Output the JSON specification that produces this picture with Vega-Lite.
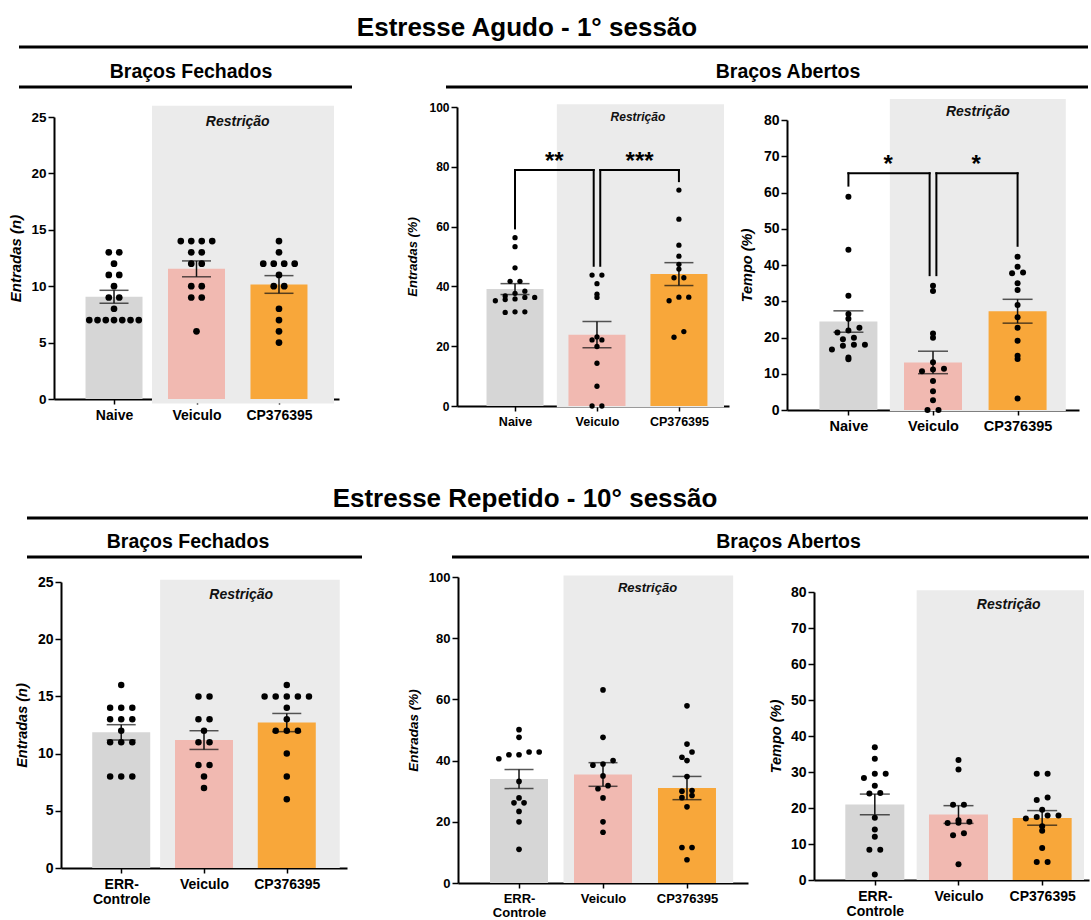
{
"$schema": "https://vega.github.io/schema/vega-lite/v6.json",
"padding": {"left": 8, "top": 14, "right": 0, "bottom": 0},
"config": {
 "view": {"stroke": null},
 "font": "Liberation Sans",
 "axis": {"domainColor": "#000", "domainWidth": 2, "tickColor": "#000", "tickWidth": 1.5, "labelColor": "#000", "labelFont": "Liberation Sans", "labelFontWeight": "bold", "titleColor": "#000", "titleFont": "Liberation Sans", "titleFontWeight": "bold", "titleFontStyle": "italic", "grid": false, "labelFlush": false, "labelOverlap": false},
 "title": {"font": "Liberation Sans", "fontWeight": "bold", "color": "#000"}
},
"datasets": {
 "pts": [
  {"p":"A","g":"Naive","v":13},{"p":"A","g":"Naive","v":13},{"p":"A","g":"Naive","v":12},{"p":"A","g":"Naive","v":11},{"p":"A","g":"Naive","v":11},{"p":"A","g":"Naive","v":10},{"p":"A","g":"Naive","v":9},{"p":"A","g":"Naive","v":9},{"p":"A","g":"Naive","v":8},{"p":"A","g":"Naive","v":7},{"p":"A","g":"Naive","v":7},{"p":"A","g":"Naive","v":7},{"p":"A","g":"Naive","v":7},{"p":"A","g":"Naive","v":7},{"p":"A","g":"Naive","v":7},{"p":"A","g":"Naive","v":7},
  {"p":"A","g":"Veiculo","v":14},{"p":"A","g":"Veiculo","v":14},{"p":"A","g":"Veiculo","v":14},{"p":"A","g":"Veiculo","v":14},{"p":"A","g":"Veiculo","v":13},{"p":"A","g":"Veiculo","v":13},{"p":"A","g":"Veiculo","v":12},{"p":"A","g":"Veiculo","v":12},{"p":"A","g":"Veiculo","v":10},{"p":"A","g":"Veiculo","v":10},{"p":"A","g":"Veiculo","v":9},{"p":"A","g":"Veiculo","v":9},{"p":"A","g":"Veiculo","v":6},
  {"p":"A","g":"CP376395","v":14},{"p":"A","g":"CP376395","v":13},{"p":"A","g":"CP376395","v":12},{"p":"A","g":"CP376395","v":12},{"p":"A","g":"CP376395","v":12},{"p":"A","g":"CP376395","v":12},{"p":"A","g":"CP376395","v":11},{"p":"A","g":"CP376395","v":10},{"p":"A","g":"CP376395","v":10},{"p":"A","g":"CP376395","v":8},{"p":"A","g":"CP376395","v":7},{"p":"A","g":"CP376395","v":6},{"p":"A","g":"CP376395","v":5},
  {"p":"B","g":"Naive","v":56.3},{"p":"B","g":"Naive","v":53.3},{"p":"B","g":"Naive","v":46.2},{"p":"B","g":"Naive","v":41.7},{"p":"B","g":"Naive","v":41.7},{"p":"B","g":"Naive","v":38.4},{"p":"B","g":"Naive","v":36.8},{"p":"B","g":"Naive","v":36.3},{"p":"B","g":"Naive","v":35.2},{"p":"B","g":"Naive","v":35.6},{"p":"B","g":"Naive","v":37.7},{"p":"B","g":"Naive","v":35.8},{"p":"B","g":"Naive","v":36.3},{"p":"B","g":"Naive","v":31.3},{"p":"B","g":"Naive","v":31.5},{"p":"B","g":"Naive","v":31.5},
  {"p":"B","g":"Veiculo","v":43.8},{"p":"B","g":"Veiculo","v":43.8},{"p":"B","g":"Veiculo","v":40.9},{"p":"B","g":"Veiculo","v":37.4},{"p":"B","g":"Veiculo","v":36.3},{"p":"B","g":"Veiculo","v":23.1},{"p":"B","g":"Veiculo","v":22.1},{"p":"B","g":"Veiculo","v":22.1},{"p":"B","g":"Veiculo","v":19.9},{"p":"B","g":"Veiculo","v":14.3},{"p":"B","g":"Veiculo","v":6.6},{"p":"B","g":"Veiculo","v":0},{"p":"B","g":"Veiculo","v":0},
  {"p":"B","g":"CP376395","v":72.2},{"p":"B","g":"CP376395","v":62.5},{"p":"B","g":"CP376395","v":53.8},{"p":"B","g":"CP376395","v":50.1},{"p":"B","g":"CP376395","v":47.4},{"p":"B","g":"CP376395","v":45.8},{"p":"B","g":"CP376395","v":42.9},{"p":"B","g":"CP376395","v":42.9},{"p":"B","g":"CP376395","v":36.4},{"p":"B","g":"CP376395","v":36.4},{"p":"B","g":"CP376395","v":35.2},{"p":"B","g":"CP376395","v":24.9},{"p":"B","g":"CP376395","v":23.0},
  {"p":"C","g":"Naive","v":58.8},{"p":"C","g":"Naive","v":44.2},{"p":"C","g":"Naive","v":31.5},{"p":"C","g":"Naive","v":26.5},{"p":"C","g":"Naive","v":25.2},{"p":"C","g":"Naive","v":22.7},{"p":"C","g":"Naive","v":21.4},{"p":"C","g":"Naive","v":21.9},{"p":"C","g":"Naive","v":19.5},{"p":"C","g":"Naive","v":17.7},{"p":"C","g":"Naive","v":19.9},{"p":"C","g":"Naive","v":18.0},{"p":"C","g":"Naive","v":18.0},{"p":"C","g":"Naive","v":16.7},{"p":"C","g":"Naive","v":14.0},{"p":"C","g":"Naive","v":14.5},
  {"p":"C","g":"Veiculo","v":34.3},{"p":"C","g":"Veiculo","v":32.8},{"p":"C","g":"Veiculo","v":21.1},{"p":"C","g":"Veiculo","v":19.9},{"p":"C","g":"Veiculo","v":13.2},{"p":"C","g":"Veiculo","v":11.4},{"p":"C","g":"Veiculo","v":10.7},{"p":"C","g":"Veiculo","v":11.2},{"p":"C","g":"Veiculo","v":8.0},{"p":"C","g":"Veiculo","v":5.2},{"p":"C","g":"Veiculo","v":2.7},{"p":"C","g":"Veiculo","v":0},{"p":"C","g":"Veiculo","v":0},
  {"p":"C","g":"CP376395","v":42.3},{"p":"C","g":"CP376395","v":39.5},{"p":"C","g":"CP376395","v":37.7},{"p":"C","g":"CP376395","v":37.9},{"p":"C","g":"CP376395","v":35.0},{"p":"C","g":"CP376395","v":33.1},{"p":"C","g":"CP376395","v":29.0},{"p":"C","g":"CP376395","v":25.6},{"p":"C","g":"CP376395","v":22.7},{"p":"C","g":"CP376395","v":19.1},{"p":"C","g":"CP376395","v":15.0},{"p":"C","g":"CP376395","v":14.1},{"p":"C","g":"CP376395","v":3.2},
  {"p":"D","g":"ERR-Controle","v":16},{"p":"D","g":"ERR-Controle","v":14},{"p":"D","g":"ERR-Controle","v":14},{"p":"D","g":"ERR-Controle","v":14},{"p":"D","g":"ERR-Controle","v":13},{"p":"D","g":"ERR-Controle","v":13},{"p":"D","g":"ERR-Controle","v":13},{"p":"D","g":"ERR-Controle","v":12},{"p":"D","g":"ERR-Controle","v":11},{"p":"D","g":"ERR-Controle","v":11},{"p":"D","g":"ERR-Controle","v":11},{"p":"D","g":"ERR-Controle","v":8},{"p":"D","g":"ERR-Controle","v":8},{"p":"D","g":"ERR-Controle","v":8},
  {"p":"D","g":"Veiculo","v":15},{"p":"D","g":"Veiculo","v":15},{"p":"D","g":"Veiculo","v":13},{"p":"D","g":"Veiculo","v":13},{"p":"D","g":"Veiculo","v":12},{"p":"D","g":"Veiculo","v":11},{"p":"D","g":"Veiculo","v":11},{"p":"D","g":"Veiculo","v":9},{"p":"D","g":"Veiculo","v":9},{"p":"D","g":"Veiculo","v":8},{"p":"D","g":"Veiculo","v":7},
  {"p":"D","g":"CP376395","v":16},{"p":"D","g":"CP376395","v":15},{"p":"D","g":"CP376395","v":15},{"p":"D","g":"CP376395","v":15},{"p":"D","g":"CP376395","v":15},{"p":"D","g":"CP376395","v":15},{"p":"D","g":"CP376395","v":14},{"p":"D","g":"CP376395","v":13},{"p":"D","g":"CP376395","v":12},{"p":"D","g":"CP376395","v":12},{"p":"D","g":"CP376395","v":12},{"p":"D","g":"CP376395","v":10},{"p":"D","g":"CP376395","v":8},{"p":"D","g":"CP376395","v":6},
  {"p":"E","g":"ERR-Controle","v":50.1},{"p":"E","g":"ERR-Controle","v":47.6},{"p":"E","g":"ERR-Controle","v":42.8},{"p":"E","g":"ERR-Controle","v":42.8},{"p":"E","g":"ERR-Controle","v":41.9},{"p":"E","g":"ERR-Controle","v":41.9},{"p":"E","g":"ERR-Controle","v":40.6},{"p":"E","g":"ERR-Controle","v":33.2},{"p":"E","g":"ERR-Controle","v":27.8},{"p":"E","g":"ERR-Controle","v":26.2},{"p":"E","g":"ERR-Controle","v":26.2},{"p":"E","g":"ERR-Controle","v":23.4},{"p":"E","g":"ERR-Controle","v":20.0},{"p":"E","g":"ERR-Controle","v":11.0},
  {"p":"E","g":"Veiculo","v":63.1},{"p":"E","g":"Veiculo","v":47.6},{"p":"E","g":"Veiculo","v":40.0},{"p":"E","g":"Veiculo","v":38.9},{"p":"E","g":"Veiculo","v":38.5},{"p":"E","g":"Veiculo","v":35.0},{"p":"E","g":"Veiculo","v":31.8},{"p":"E","g":"Veiculo","v":30.8},{"p":"E","g":"Veiculo","v":27.8},{"p":"E","g":"Veiculo","v":20.0},{"p":"E","g":"Veiculo","v":16.6},
  {"p":"E","g":"CP376395","v":57.9},{"p":"E","g":"CP376395","v":45.4},{"p":"E","g":"CP376395","v":42.8},{"p":"E","g":"CP376395","v":41.1},{"p":"E","g":"CP376395","v":40.0},{"p":"E","g":"CP376395","v":34.8},{"p":"E","g":"CP376395","v":30.2},{"p":"E","g":"CP376395","v":30.0},{"p":"E","g":"CP376395","v":28.6},{"p":"E","g":"CP376395","v":27.9},{"p":"E","g":"CP376395","v":24.9},{"p":"E","g":"CP376395","v":11.6},{"p":"E","g":"CP376395","v":11.6},{"p":"E","g":"CP376395","v":7.6},
  {"p":"F","g":"ERR-Controle","v":36.9},{"p":"F","g":"ERR-Controle","v":33.7},{"p":"F","g":"ERR-Controle","v":29.5},{"p":"F","g":"ERR-Controle","v":29.5},{"p":"F","g":"ERR-Controle","v":28.3},{"p":"F","g":"ERR-Controle","v":26.2},{"p":"F","g":"ERR-Controle","v":24.2},{"p":"F","g":"ERR-Controle","v":24.0},{"p":"F","g":"ERR-Controle","v":17.3},{"p":"F","g":"ERR-Controle","v":14.0},{"p":"F","g":"ERR-Controle","v":12.0},{"p":"F","g":"ERR-Controle","v":8.4},{"p":"F","g":"ERR-Controle","v":8.4},{"p":"F","g":"ERR-Controle","v":1.5},
  {"p":"F","g":"Veiculo","v":33.3},{"p":"F","g":"Veiculo","v":30.7},{"p":"F","g":"Veiculo","v":20.9},{"p":"F","g":"Veiculo","v":20.9},{"p":"F","g":"Veiculo","v":16.6},{"p":"F","g":"Veiculo","v":16.2},{"p":"F","g":"Veiculo","v":15.9},{"p":"F","g":"Veiculo","v":15.8},{"p":"F","g":"Veiculo","v":13.0},{"p":"F","g":"Veiculo","v":12.4},{"p":"F","g":"Veiculo","v":4.4},
  {"p":"F","g":"CP376395","v":29.5},{"p":"F","g":"CP376395","v":29.5},{"p":"F","g":"CP376395","v":22.9},{"p":"F","g":"CP376395","v":22.2},{"p":"F","g":"CP376395","v":19.5},{"p":"F","g":"CP376395","v":17.9},{"p":"F","g":"CP376395","v":17.9},{"p":"F","g":"CP376395","v":17.5},{"p":"F","g":"CP376395","v":17.1},{"p":"F","g":"CP376395","v":14.9},{"p":"F","g":"CP376395","v":13.7},{"p":"F","g":"CP376395","v":8.9},{"p":"F","g":"CP376395","v":5.0},{"p":"F","g":"CP376395","v":5.0}
 ],
 "brk": [
  {"p":"B","x":1,"x2":1.96,"y":78.9,"y2":78.9},{"p":"B","x":1,"x2":1,"y":59.4,"y2":78.9},{"p":"B","x":1.96,"x2":1.96,"y":46.9,"y2":78.9},
  {"p":"B","x":2.04,"x2":3,"y":78.9,"y2":78.9},{"p":"B","x":2.04,"x2":2.04,"y":46.9,"y2":78.9},{"p":"B","x":3,"x2":3,"y":75.2,"y2":78.9},
  {"p":"C","x":1,"x2":1.96,"y":65.3,"y2":65.3},{"p":"C","x":1,"x2":1,"y":61.9,"y2":65.3},{"p":"C","x":1.96,"x2":1.96,"y":37.2,"y2":65.3},
  {"p":"C","x":2.04,"x2":3,"y":65.3,"y2":65.3},{"p":"C","x":2.04,"x2":2.04,"y":37.2,"y2":65.3},{"p":"C","x":3,"x2":3,"y":45.3,"y2":65.3}
 ],
 "stars": [
  {"p":"B","x":1.48,"y":78.9,"t":"**"},{"p":"B","x":2.52,"y":78.9,"t":"***"},
  {"p":"C","x":1.47,"y":65.3,"t":"*"},{"p":"C","x":2.51,"y":65.3,"t":"*"}
 ]
},
"spacing": 52,
"vconcat": [
 {"bounds": "flush", "spacing": 0, "vconcat": [
  {"width": 946, "height": 40, "data": {"values": [{}]},
   "title": {"text": "Estresse Agudo - 1° sessão", "fontSize": 26, "frame": "group", "anchor": "middle", "offset": 8, "dy": 24, "baseline": "alphabetic"},
   "mark": {"type": "rule", "strokeWidth": 3, "color": "#000"},
   "encoding": {"x": {"datum": 0, "type": "quantitative", "scale": {"domain": [0, 1], "range": [-35, 1034]}, "axis": null}, "x2": {"datum": 1}, "y": {"datum": 0, "type": "quantitative", "scale": {"domain": [0, 1], "range": [0, 40]}, "axis": null}}},
  {"spacing": 52, "hconcat": [
   {"bounds": "flush", "spacing": 0, "vconcat": [
    {"width": 274, "height": 20, "data": {"values": [{}]},
     "title": {"text": "Braços Fechados", "fontSize": 19.5, "frame": "group", "anchor": "middle", "offset": 5, "dy": 17, "baseline": "alphabetic"},
     "mark": {"type": "rule", "strokeWidth": 3, "color": "#000"},
     "encoding": {"x": {"datum": 0, "type": "quantitative", "scale": {"domain": [0, 1], "range": [-35, 298]}, "axis": null}, "x2": {"datum": 1}, "y": {"datum": 0, "type": "quantitative", "scale": {"domain": [0, 1], "range": [0, 20]}, "axis": null}}},
    {"width": 285, "height": 292, "data": {"name": "pts"},
     "transform": [
      {"filter": "datum.p == 'A'"},
      {"calculate": "datum.g == 'Veiculo' ? 2 : datum.g == 'CP376395' ? 3 : 1", "as": "idx"},
      {"calculate": "round(datum.v / 1)", "as": "bin"},
      {"window": [{"op": "row_number", "as": "rk"}], "groupby": ["g", "bin"], "sort": [{"field": "v", "order": "ascending"}]},
      {"joinaggregate": [{"op": "count", "as": "n"}], "groupby": ["g", "bin"]},
      {"calculate": "datum.idx + (datum.rk - (datum.n + 1) / 2) * min(0.127, 0.6 / max(datum.n - 1, 1))", "as": "xo"}
     ],
     "layer": [
      {"data": {"values": [{}]}, "mark": {"type": "rect", "color": "#ebebeb"},
       "encoding": {
        "x": {"datum": 1.46, "type": "quantitative", "scale": {"domain": [0.333, 3.667], "range": [0, 285], "nice": false, "zero": false}, "axis": {"values": [1, 2, 3], "labelExpr": "datum.value == 1 ? 'Naive' : datum.value == 2 ? 'Veiculo' : 'CP376395'", "tickSize": 5, "labelPadding": 4, "labelFontSize": 14}, "title": null},
        "x2": {"datum": 3.667},
        "y": {"datum": -0.4, "type": "quantitative", "scale": {"domain": [0, 25], "range": [292, 10], "nice": false, "zero": false}, "axis": {"values": [0, 5, 10, 15, 20, 25], "labelOverlap": false, "tickSize": 6, "labelPadding": 2, "labelFontSize": 13.5, "titleFontSize": 15, "titlePadding": 7}, "title": "Entradas (n)"},
        "y2": {"datum": 26}}},
      {"data": {"values": [{"t": "Restrição"}]}, "mark": {"type": "text", "fontSize": 14, "fontWeight": "bold", "fontStyle": "italic", "baseline": "middle", "color": "#111"},
       "encoding": {"x": {"datum": 2.5, "type": "quantitative", "title": null}, "y": {"datum": 24.6, "type": "quantitative", "title": "Entradas (n)"}, "text": {"field": "t"}}},
      {"mark": {"type": "bar", "size": 57},
       "encoding": {"x": {"field": "idx", "type": "quantitative", "title": null}, "y": {"aggregate": "mean", "field": "v", "type": "quantitative", "title": "Entradas (n)", "stack": null}, "color": {"field": "g", "type": "nominal", "scale": {"domain": ["Naive", "Veiculo", "CP376395"], "range": ["#d6d6d6", "#f1b9b1", "#f8a73a"]}, "legend": null}}},
      {"mark": {"type": "errorbar", "extent": "stderr", "orient": "vertical", "ticks": {"size": 29, "thickness": 1.5, "color": "#111"}, "rule": {"strokeWidth": 1.5, "color": "#111"}},
       "encoding": {"x": {"field": "idx", "type": "quantitative", "title": null}, "y": {"field": "v", "type": "quantitative", "title": "Entradas (n)"}}},
      {"mark": {"type": "circle", "size": 45, "color": "#000", "opacity": 1},
       "encoding": {"x": {"field": "xo", "type": "quantitative", "title": null}, "y": {"field": "v", "type": "quantitative", "title": "Entradas (n)"}}}
     ]}
   ]},
   {"bounds": "flush", "spacing": 0, "vconcat": [
    {"width": 622, "height": 20, "data": {"values": [{}]},
     "title": {"text": "Braços Abertos", "fontSize": 19.5, "frame": "group", "anchor": "middle", "offset": 5, "dx": 20, "dy": 17, "baseline": "alphabetic"},
     "mark": {"type": "rule", "strokeWidth": 3, "color": "#000"},
     "encoding": {"x": {"datum": 0, "type": "quantitative", "scale": {"domain": [0, 1], "range": [-11, 631]}, "axis": null}, "x2": {"datum": 1}, "y": {"datum": 0, "type": "quantitative", "scale": {"domain": [0, 1], "range": [0, 20]}, "axis": null}}},
    {"bounds": "flush", "spacing": 58, "hconcat": [
     {"width": 272, "height": 299, "data": {"name": "pts"},
      "transform": [
       {"filter": "datum.p == 'B'"},
       {"calculate": "datum.g == 'Veiculo' ? 2 : datum.g == 'CP376395' ? 3 : 1", "as": "idx"},
       {"calculate": "round(datum.v / 2.7)", "as": "bin"},
       {"window": [{"op": "row_number", "as": "rk"}], "groupby": ["g", "bin"], "sort": [{"field": "v", "order": "ascending"}]},
       {"joinaggregate": [{"op": "count", "as": "n"}], "groupby": ["g", "bin"]},
       {"calculate": "datum.idx + (datum.rk - (datum.n + 1) / 2) * min(0.12, 0.6 / max(datum.n - 1, 1))", "as": "xo"}
      ],
      "layer": [
       {"data": {"values": [{}]}, "mark": {"type": "rect", "color": "#ebebeb"},
        "encoding": {
         "x": {"datum": 1.51, "type": "quantitative", "scale": {"domain": [0.353, 3.55], "range": [0, 272], "nice": false, "zero": false}, "axis": {"values": [1, 2, 3], "labelExpr": "datum.value == 1 ? 'Naive' : datum.value == 2 ? 'Veiculo' : 'CP376395'", "tickSize": 5, "labelPadding": 4, "labelFontSize": 12.5}, "title": null},
         "x2": {"datum": 3.55},
         "y": {"datum": -0.4, "type": "quantitative", "scale": {"domain": [0, 100], "range": [299, 0], "nice": false, "zero": false}, "axis": {"values": [0, 20, 40, 60, 80, 100], "labelOverlap": false, "tickSize": 6, "labelPadding": 2, "labelFontSize": 12, "titleFontSize": 13, "titlePadding": 9}, "title": "Entradas (%)"},
         "y2": {"datum": 100.9}}},
       {"data": {"values": [{"t": "Restrição"}]}, "mark": {"type": "text", "fontSize": 12, "fontWeight": "bold", "fontStyle": "italic", "baseline": "middle", "color": "#111"},
        "encoding": {"x": {"datum": 2.5, "type": "quantitative", "title": null}, "y": {"datum": 96.7, "type": "quantitative", "title": "Entradas (%)"}, "text": {"field": "t"}}},
       {"mark": {"type": "bar", "size": 57},
        "encoding": {"x": {"field": "idx", "type": "quantitative", "title": null}, "y": {"aggregate": "mean", "field": "v", "type": "quantitative", "title": "Entradas (%)", "stack": null}, "color": {"field": "g", "type": "nominal", "scale": {"domain": ["Naive", "Veiculo", "CP376395"], "range": ["#d6d6d6", "#f1b9b1", "#f8a73a"]}, "legend": null}}},
       {"mark": {"type": "errorbar", "extent": "stderr", "orient": "vertical", "ticks": {"size": 29, "thickness": 1.5, "color": "#111"}, "rule": {"strokeWidth": 1.5, "color": "#111"}},
        "encoding": {"x": {"field": "idx", "type": "quantitative", "title": null}, "y": {"field": "v", "type": "quantitative", "title": "Entradas (%)"}}},
       {"mark": {"type": "circle", "size": 28, "color": "#000", "opacity": 1},
        "encoding": {"x": {"field": "xo", "type": "quantitative", "title": null}, "y": {"field": "v", "type": "quantitative", "title": "Entradas (%)"}}},
       {"data": {"name": "brk"}, "transform": [{"filter": "datum.p == 'B'"}], "mark": {"type": "rule", "strokeWidth": 2, "color": "#000", "strokeCap": "square"},
        "encoding": {"x": {"field": "x", "type": "quantitative", "title": null}, "x2": {"field": "x2"}, "y": {"field": "y", "type": "quantitative", "title": "Entradas (%)"}, "y2": {"field": "y2"}}},
       {"data": {"name": "stars"}, "transform": [{"filter": "datum.p == 'B'"}], "mark": {"type": "text", "fontSize": 24, "fontWeight": "bold", "baseline": "alphabetic", "dy": -1, "color": "#000"},
        "encoding": {"x": {"field": "x", "type": "quantitative", "title": null}, "y": {"field": "y", "type": "quantitative", "title": "Entradas (%)"}, "text": {"field": "t"}}}
      ]},
     {"width": 292, "height": 303, "data": {"name": "pts"},
      "transform": [
       {"filter": "datum.p == 'C'"},
       {"calculate": "datum.g == 'Veiculo' ? 2 : datum.g == 'CP376395' ? 3 : 1", "as": "idx"},
       {"calculate": "round(datum.v / 2.2)", "as": "bin"},
       {"window": [{"op": "row_number", "as": "rk"}], "groupby": ["g", "bin"], "sort": [{"field": "v", "order": "ascending"}]},
       {"joinaggregate": [{"op": "count", "as": "n"}], "groupby": ["g", "bin"]},
       {"calculate": "datum.idx + (datum.rk - (datum.n + 1) / 2) * min(0.13, 0.6 / max(datum.n - 1, 1))", "as": "xo"}
      ],
      "layer": [
       {"data": {"values": [{}]}, "mark": {"type": "rect", "color": "#ebebeb"},
        "encoding": {
         "x": {"datum": 1.49, "type": "quantitative", "scale": {"domain": [0.333, 3.667], "range": [0, 292], "nice": false, "zero": false}, "axis": {"values": [1, 2, 3], "labelExpr": "datum.value == 1 ? 'Naive' : datum.value == 2 ? 'Veiculo' : 'CP376395'", "tickSize": 5, "labelPadding": 4, "labelFontSize": 14.5}, "title": null},
         "x2": {"datum": 3.57},
         "y": {"datum": -0.3, "type": "quantitative", "scale": {"domain": [0, 80], "range": [303, 13], "nice": false, "zero": false}, "axis": {"values": [0, 10, 20, 30, 40, 50, 60, 70, 80], "labelOverlap": false, "tickCount": 9, "tickSize": 6, "labelPadding": 2, "labelFontSize": 14, "titleFontSize": 14.5, "titlePadding": 9}, "title": "Tempo (%)"},
         "y2": {"datum": 85.8}}},
       {"data": {"values": [{"t": "Restrição"}]}, "mark": {"type": "text", "fontSize": 14, "fontWeight": "bold", "fontStyle": "italic", "baseline": "middle", "color": "#111"},
        "encoding": {"x": {"datum": 2.53, "type": "quantitative", "title": null}, "y": {"datum": 82.2, "type": "quantitative", "title": "Tempo (%)"}, "text": {"field": "t"}}},
       {"mark": {"type": "bar", "size": 58},
        "encoding": {"x": {"field": "idx", "type": "quantitative", "title": null}, "y": {"aggregate": "mean", "field": "v", "type": "quantitative", "title": "Tempo (%)", "stack": null}, "color": {"field": "g", "type": "nominal", "scale": {"domain": ["Naive", "Veiculo", "CP376395"], "range": ["#d6d6d6", "#f1b9b1", "#f8a73a"]}, "legend": null}}},
       {"mark": {"type": "errorbar", "extent": "stderr", "orient": "vertical", "ticks": {"size": 30, "thickness": 1.5, "color": "#111"}, "rule": {"strokeWidth": 1.5, "color": "#111"}},
        "encoding": {"x": {"field": "idx", "type": "quantitative", "title": null}, "y": {"field": "v", "type": "quantitative", "title": "Tempo (%)"}}},
       {"mark": {"type": "circle", "size": 36, "color": "#000", "opacity": 1},
        "encoding": {"x": {"field": "xo", "type": "quantitative", "title": null}, "y": {"field": "v", "type": "quantitative", "title": "Tempo (%)"}}},
       {"data": {"name": "brk"}, "transform": [{"filter": "datum.p == 'C'"}], "mark": {"type": "rule", "strokeWidth": 2, "color": "#000", "strokeCap": "square"},
        "encoding": {"x": {"field": "x", "type": "quantitative", "title": null}, "x2": {"field": "x2"}, "y": {"field": "y", "type": "quantitative", "title": "Tempo (%)"}, "y2": {"field": "y2"}}},
       {"data": {"name": "stars"}, "transform": [{"filter": "datum.p == 'C'"}], "mark": {"type": "text", "fontSize": 24, "fontWeight": "bold", "baseline": "alphabetic", "dy": -1, "color": "#000"},
        "encoding": {"x": {"field": "x", "type": "quantitative", "title": null}, "y": {"field": "y", "type": "quantitative", "title": "Tempo (%)"}, "text": {"field": "t"}}}
      ]}
    ]}
   ]}
  ]}
 ]},
 {"bounds": "flush", "spacing": 0, "vconcat": [
  {"width": 942, "height": 39, "data": {"values": [{}]},
   "title": {"text": "Estresse Repetido - 10° sessão", "fontSize": 26, "frame": "group", "anchor": "middle", "offset": 8, "dy": 24, "baseline": "alphabetic"},
   "mark": {"type": "rule", "strokeWidth": 3, "color": "#000"},
   "encoding": {"x": {"datum": 0, "type": "quantitative", "scale": {"domain": [0, 1], "range": [-27, 1034]}, "axis": null}, "x2": {"datum": 1}, "y": {"datum": 0, "type": "quantitative", "scale": {"domain": [0, 1], "range": [0, 39]}, "axis": null}}},
  {"spacing": 42, "hconcat": [
   {"bounds": "flush", "spacing": 0, "vconcat": [
    {"width": 268, "height": 20, "data": {"values": [{}]},
     "title": {"text": "Braços Fechados", "fontSize": 19.5, "frame": "group", "anchor": "middle", "offset": 5, "dy": 17, "baseline": "alphabetic"},
     "mark": {"type": "rule", "strokeWidth": 3, "color": "#000"},
     "encoding": {"x": {"datum": 0, "type": "quantitative", "scale": {"domain": [0, 1], "range": [-27, 308]}, "axis": null}, "x2": {"datum": 1}, "y": {"datum": 0, "type": "quantitative", "scale": {"domain": [0, 1], "range": [0, 20]}, "axis": null}}},
    {"width": 293, "height": 291, "data": {"name": "pts"},
     "transform": [
      {"filter": "datum.p == 'D'"},
      {"calculate": "datum.g == 'Veiculo' ? 2 : datum.g == 'CP376395' ? 3 : 1", "as": "idx"},
      {"calculate": "round(datum.v / 1)", "as": "bin"},
      {"window": [{"op": "row_number", "as": "rk"}], "groupby": ["g", "bin"], "sort": [{"field": "v", "order": "ascending"}]},
      {"joinaggregate": [{"op": "count", "as": "n"}], "groupby": ["g", "bin"]},
      {"calculate": "datum.idx + (datum.rk - (datum.n + 1) / 2) * min(0.134, 0.6 / max(datum.n - 1, 1))", "as": "xo"}
     ],
     "layer": [
      {"data": {"values": [{}]}, "mark": {"type": "rect", "color": "#ebebeb"},
       "encoding": {
        "x": {"datum": 1.47, "type": "quantitative", "scale": {"domain": [0.333, 3.667], "range": [7, 293], "nice": false, "zero": false}, "axis": {"values": [1, 2, 3], "labelExpr": "datum.value == 1 ? ['ERR-', 'Controle'] : datum.value == 2 ? 'Veiculo' : 'CP376395'", "tickSize": 5, "labelPadding": 4, "labelFontSize": 14, "labelLineHeight": 15}, "title": null},
        "x2": {"datum": 3.64},
        "y": {"datum": 0, "type": "quantitative", "scale": {"domain": [0, 25], "range": [291, 5], "nice": false, "zero": false}, "axis": {"values": [0, 5, 10, 15, 20, 25], "labelOverlap": false, "offset": -7, "tickSize": 6, "labelPadding": 2, "labelFontSize": 14, "titleFontSize": 14.5, "titlePadding": 8}, "title": "Entradas (n)"},
        "y2": {"datum": 25.2}}},
      {"data": {"values": [{"t": "Restrição"}]}, "mark": {"type": "text", "fontSize": 14, "fontWeight": "bold", "fontStyle": "italic", "baseline": "middle", "color": "#111"},
       "encoding": {"x": {"datum": 2.45, "type": "quantitative", "title": null}, "y": {"datum": 23.9, "type": "quantitative", "title": "Entradas (n)"}, "text": {"field": "t"}}},
      {"mark": {"type": "bar", "size": 58},
       "encoding": {"x": {"field": "idx", "type": "quantitative", "title": null}, "y": {"aggregate": "mean", "field": "v", "type": "quantitative", "title": "Entradas (n)", "stack": null}, "color": {"field": "g", "type": "nominal", "scale": {"domain": ["ERR-Controle", "Veiculo", "CP376395"], "range": ["#d6d6d6", "#f1b9b1", "#f8a73a"]}, "legend": null}}},
      {"mark": {"type": "errorbar", "extent": "stderr", "orient": "vertical", "ticks": {"size": 29, "thickness": 1.5, "color": "#111"}, "rule": {"strokeWidth": 1.5, "color": "#111"}},
       "encoding": {"x": {"field": "idx", "type": "quantitative", "title": null}, "y": {"field": "v", "type": "quantitative", "title": "Entradas (n)"}}},
      {"mark": {"type": "circle", "size": 42, "color": "#000", "opacity": 1},
       "encoding": {"x": {"field": "xo", "type": "quantitative", "title": null}, "y": {"field": "v", "type": "quantitative", "title": "Entradas (n)"}}}
     ]}
   ]},
   {"bounds": "flush", "spacing": 0, "vconcat": [
    {"width": 631, "height": 20, "data": {"values": [{}]},
     "title": {"text": "Braços Abertos", "fontSize": 19.5, "frame": "group", "anchor": "middle", "offset": 5, "dx": 15, "dy": 17, "baseline": "alphabetic"},
     "mark": {"type": "rule", "strokeWidth": 3, "color": "#000"},
     "encoding": {"x": {"datum": 0, "type": "quantitative", "scale": {"domain": [0, 1], "range": [-6, 631]}, "axis": null}, "x2": {"datum": 1}, "y": {"datum": 0, "type": "quantitative", "scale": {"domain": [0, 1], "range": [0, 20]}, "axis": null}}},
    {"bounds": "flush", "spacing": 66, "hconcat": [
     {"width": 290, "height": 306, "data": {"name": "pts"},
      "transform": [
       {"filter": "datum.p == 'E'"},
       {"calculate": "datum.g == 'Veiculo' ? 2 : datum.g == 'CP376395' ? 3 : 1", "as": "idx"},
       {"calculate": "round(datum.v / 2.6)", "as": "bin"},
       {"window": [{"op": "row_number", "as": "rk"}], "groupby": ["g", "bin"], "sort": [{"field": "v", "order": "ascending"}]},
       {"joinaggregate": [{"op": "count", "as": "n"}], "groupby": ["g", "bin"]},
       {"calculate": "datum.idx + (datum.rk - (datum.n + 1) / 2) * min(0.12, 0.6 / max(datum.n - 1, 1))", "as": "xo"}
      ],
      "layer": [
       {"data": {"values": [{}]}, "mark": {"type": "rect", "color": "#ebebeb"},
        "encoding": {
         "x": {"datum": 1.53, "type": "quantitative", "scale": {"domain": [0.333, 3.667], "range": [0, 290], "nice": false, "zero": false}, "axis": {"values": [1, 2, 3], "labelExpr": "datum.value == 1 ? ['ERR-', 'Controle'] : datum.value == 2 ? 'Veiculo' : 'CP376395'", "tickSize": 5, "labelPadding": 4, "labelFontSize": 13, "labelLineHeight": 14}, "title": null},
         "x2": {"datum": 3.55},
         "y": {"datum": 0, "type": "quantitative", "scale": {"domain": [0, 100], "range": [306, 0], "nice": false, "zero": false}, "axis": {"values": [0, 20, 40, 60, 80, 100], "labelOverlap": false, "tickSize": 6, "labelPadding": 2, "labelFontSize": 13, "titleFontSize": 13.5, "titlePadding": 7.5}, "title": "Entradas (%)"},
         "y2": {"datum": 100.5}}},
       {"data": {"values": [{"t": "Restrição"}]}, "mark": {"type": "text", "fontSize": 13, "fontWeight": "bold", "fontStyle": "italic", "baseline": "middle", "color": "#111"},
        "encoding": {"x": {"datum": 2.53, "type": "quantitative", "title": null}, "y": {"datum": 96.4, "type": "quantitative", "title": "Entradas (%)"}, "text": {"field": "t"}}},
       {"mark": {"type": "bar", "size": 58},
        "encoding": {"x": {"field": "idx", "type": "quantitative", "title": null}, "y": {"aggregate": "mean", "field": "v", "type": "quantitative", "title": "Entradas (%)", "stack": null}, "color": {"field": "g", "type": "nominal", "scale": {"domain": ["ERR-Controle", "Veiculo", "CP376395"], "range": ["#d6d6d6", "#f1b9b1", "#f8a73a"]}, "legend": null}}},
       {"mark": {"type": "errorbar", "extent": "stderr", "orient": "vertical", "ticks": {"size": 29, "thickness": 1.5, "color": "#111"}, "rule": {"strokeWidth": 1.5, "color": "#111"}},
        "encoding": {"x": {"field": "idx", "type": "quantitative", "title": null}, "y": {"field": "v", "type": "quantitative", "title": "Entradas (%)"}}},
       {"mark": {"type": "circle", "size": 32, "color": "#000", "opacity": 1},
        "encoding": {"x": {"field": "xo", "type": "quantitative", "title": null}, "y": {"field": "v", "type": "quantitative", "title": "Entradas (%)"}}}
      ]},
     {"width": 275, "height": 303, "data": {"name": "pts"},
      "transform": [
       {"filter": "datum.p == 'F'"},
       {"calculate": "datum.g == 'Veiculo' ? 2 : datum.g == 'CP376395' ? 3 : 1", "as": "idx"},
       {"calculate": "round(datum.v / 2.2)", "as": "bin"},
       {"window": [{"op": "row_number", "as": "rk"}], "groupby": ["g", "bin"], "sort": [{"field": "v", "order": "ascending"}]},
       {"joinaggregate": [{"op": "count", "as": "n"}], "groupby": ["g", "bin"]},
       {"calculate": "datum.idx + (datum.rk - (datum.n + 1) / 2) * min(0.13, 0.6 / max(datum.n - 1, 1))", "as": "xo"}
      ],
      "layer": [
       {"data": {"values": [{}]}, "mark": {"type": "rect", "color": "#ebebeb"},
        "encoding": {
         "x": {"datum": 1.5, "type": "quantitative", "scale": {"domain": [0.333, 3.5], "range": [0, 275], "nice": false, "zero": false}, "axis": {"values": [1, 2, 3], "labelExpr": "datum.value == 1 ? ['ERR-', 'Controle'] : datum.value == 2 ? 'Veiculo' : 'CP376395'", "tickSize": 5, "labelPadding": 4, "labelFontSize": 14, "labelLineHeight": 15}, "title": null},
         "x2": {"datum": 3.5},
         "y": {"datum": 0, "type": "quantitative", "scale": {"domain": [0, 80], "range": [303, 15], "nice": false, "zero": false}, "axis": {"values": [0, 10, 20, 30, 40, 50, 60, 70, 80], "labelOverlap": false, "tickCount": 9, "tickSize": 6, "labelPadding": 2, "labelFontSize": 14, "titleFontSize": 14.5, "titlePadding": 7}, "title": "Tempo  (%)"},
         "y2": {"datum": 80.5}}},
       {"data": {"values": [{"t": "Restrição"}]}, "mark": {"type": "text", "fontSize": 14, "fontWeight": "bold", "fontStyle": "italic", "baseline": "middle", "color": "#111"},
        "encoding": {"x": {"datum": 2.6, "type": "quantitative", "title": null}, "y": {"datum": 76.5, "type": "quantitative", "title": "Tempo  (%)"}, "text": {"field": "t"}}},
       {"mark": {"type": "bar", "size": 59},
        "encoding": {"x": {"field": "idx", "type": "quantitative", "title": null}, "y": {"aggregate": "mean", "field": "v", "type": "quantitative", "title": "Tempo  (%)", "stack": null}, "color": {"field": "g", "type": "nominal", "scale": {"domain": ["ERR-Controle", "Veiculo", "CP376395"], "range": ["#d6d6d6", "#f1b9b1", "#f8a73a"]}, "legend": null}}},
       {"mark": {"type": "errorbar", "extent": "stderr", "orient": "vertical", "ticks": {"size": 30, "thickness": 1.5, "color": "#111"}, "rule": {"strokeWidth": 1.5, "color": "#111"}},
        "encoding": {"x": {"field": "idx", "type": "quantitative", "title": null}, "y": {"field": "v", "type": "quantitative", "title": "Tempo  (%)"}}},
       {"mark": {"type": "circle", "size": 36, "color": "#000", "opacity": 1},
        "encoding": {"x": {"field": "xo", "type": "quantitative", "title": null}, "y": {"field": "v", "type": "quantitative", "title": "Tempo  (%)"}}}
      ]}
    ]}
   ]}
  ]}
 ]}
]
}
